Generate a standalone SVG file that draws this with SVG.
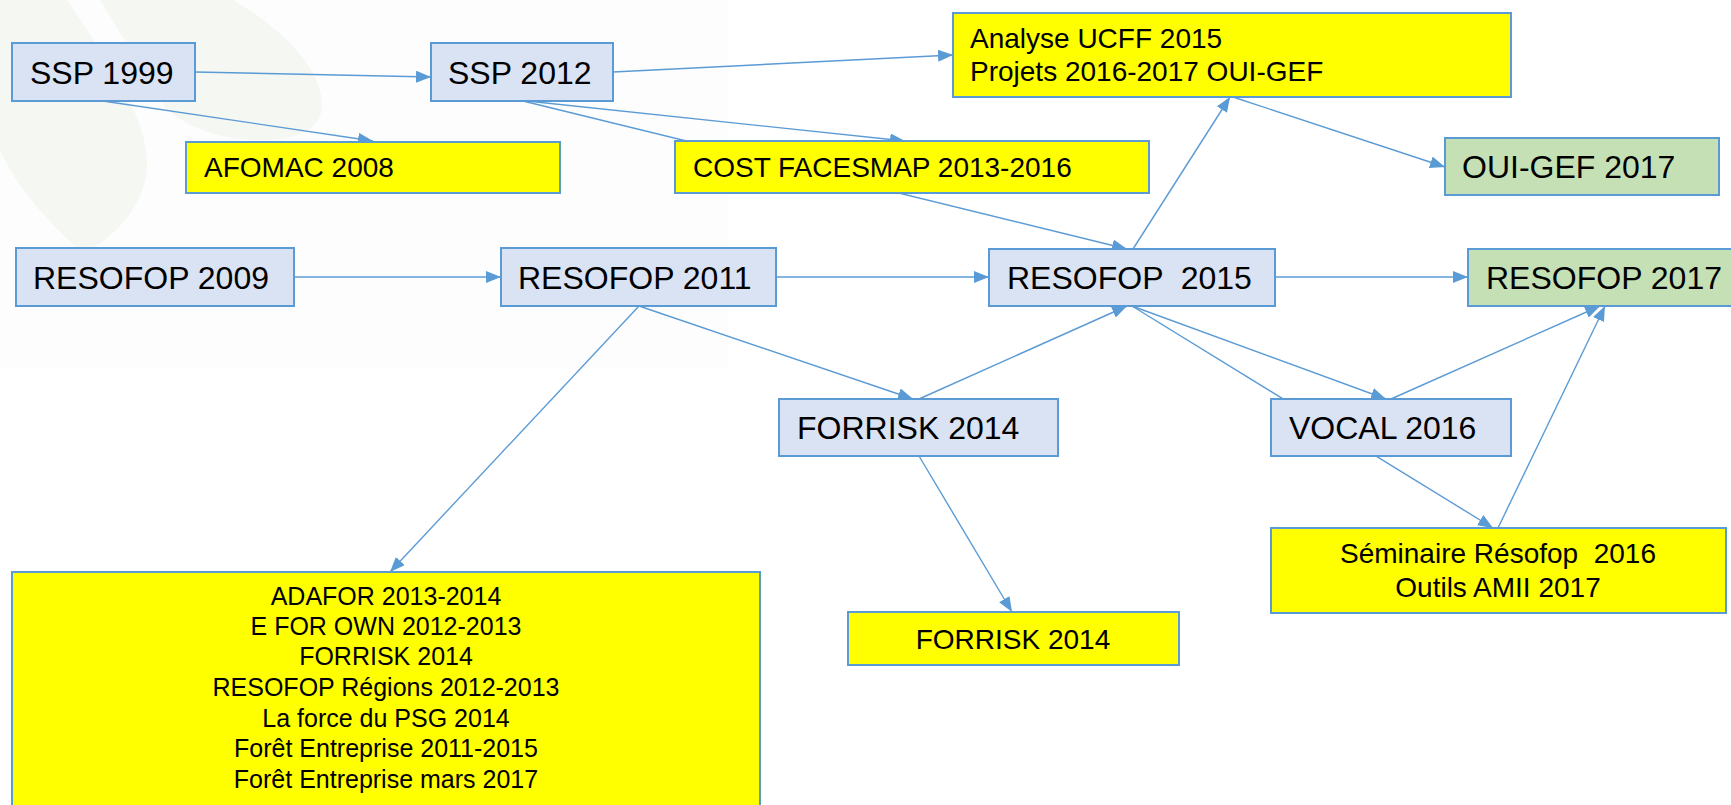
<svg xmlns="http://www.w3.org/2000/svg" width="1731" height="805" viewBox="0 0 1731 805">
<style>
.bl{fill:#DAE3F3;stroke:#5B9BD5;stroke-width:2}
.ye{fill:#FFFF00;stroke:#5B9BD5;stroke-width:2}
.gr{fill:#C5E0B4;stroke:#5B9BD5;stroke-width:2}
text{font-family:"Liberation Sans",Arial,sans-serif;fill:#000;white-space:pre}
.t32{font-size:32px}
.t28{font-size:28px}
.t25{font-size:25px}
.c{text-anchor:middle}
#connectors line{stroke:#5B9BD5;stroke-width:1.4;fill:none}
.ar{marker-end:url(#ah)}
</style>
<defs>
<marker id="ah" markerUnits="userSpaceOnUse" markerWidth="16" markerHeight="12" refX="15" refY="6" orient="auto">
<path d="M0,0 L15,6 L0,12 Z" fill="#5B9BD5"/>
</marker>
</defs>
<rect width="1731" height="805" fill="#FFFFFF"/>
<g id="background">
<rect x="0" y="0" width="728" height="367" fill="#FDFDFD"/>
<g fill="#F5F7F2">
<path d="M0,0 L67,0 C100,50 145,110 147,160 C148,200 120,235 83,253 C50,225 15,185 0,150 Z"/>
<path d="M100,0 L233,0 C285,30 322,70 322,105 C322,130 295,140 260,140 C220,140 190,128 167,110 Z"/>
</g>
</g>
<g id="connectors">
<line class="ar" x1="195" y1="72" x2="431" y2="77"/>
<line class="ar" x1="103" y1="101" x2="373" y2="141"/>
<line class="ar" x1="613" y1="72" x2="953" y2="55"/>
<line class="ar" x1="527" y1="101" x2="905" y2="141"/>
<line class="ar" x1="523" y1="101" x2="1127" y2="249"/>
<line class="ar" x1="294" y1="277" x2="501" y2="277"/>
<line class="ar" x1="776" y1="277" x2="989" y2="277"/>
<line class="ar" x1="1275" y1="277" x2="1468" y2="277"/>
<line class="ar" x1="639" y1="306" x2="913" y2="399"/>
<line class="ar" x1="639" y1="306" x2="390" y2="572"/>
<line class="ar" x1="919" y1="399" x2="1127" y2="306"/>
<line class="ar" x1="919" y1="456" x2="1012" y2="612"/>
<line class="ar" x1="1132" y1="306" x2="1386" y2="399"/>
<line class="ar" x1="1132" y1="306" x2="1493" y2="528"/>
<line class="ar" x1="1391" y1="399" x2="1600" y2="306"/>
<line class="ar" x1="1498" y1="528" x2="1605" y2="306"/>
<line class="ar" x1="1133" y1="249" x2="1230" y2="97"/>
<line class="ar" x1="1233" y1="97" x2="1445" y2="167"/>
</g>
<g id="ssp1999"><rect class="bl" x="12" y="43" width="183" height="58"/><text class="t32" x="30" y="84">SSP 1999</text></g>
<g id="ssp2012"><rect class="bl" x="431" y="43" width="182" height="58"/><text class="t32" x="448" y="84">SSP 2012</text></g>
<g id="afomac"><rect class="ye" x="186" y="142" width="374" height="51"/><text class="t28" x="204" y="177">AFOMAC 2008</text></g>
<g id="cost"><rect class="ye" x="675" y="141" width="474" height="52"/><text class="t28" x="693" y="177">COST FACESMAP 2013-2016</text></g>
<g id="analyse"><rect class="ye" x="953" y="13" width="558" height="84"/><text class="t28" x="970" y="48">Analyse UCFF 2015</text><text class="t28" x="970" y="81">Projets 2016-2017 OUI-GEF</text></g>
<g id="ouigef2017"><rect class="gr" x="1445" y="138" width="274" height="57"/><text class="t32" x="1462" y="178">OUI-GEF 2017</text></g>
<g id="resofop2009"><rect class="bl" x="16" y="248" width="278" height="58"/><text class="t32" x="33" y="289">RESOFOP 2009</text></g>
<g id="resofop2011"><rect class="bl" x="501" y="248" width="275" height="58"/><text class="t32" x="518" y="289">RESOFOP 2011</text></g>
<g id="resofop2015"><rect class="bl" x="989" y="249" width="286" height="57"/><text class="t32" x="1007" y="289">RESOFOP  2015</text></g>
<g id="resofop2017"><rect class="gr" x="1468" y="249" width="280" height="57"/><text class="t32" x="1486" y="289">RESOFOP 2017</text></g>
<g id="forrisk"><rect class="bl" x="779" y="399" width="279" height="57"/><text class="t32" x="797" y="439">FORRISK 2014</text></g>
<g id="vocal"><rect class="bl" x="1271" y="399" width="240" height="57"/><text class="t32" x="1289" y="439">VOCAL 2016</text></g>
<g id="seminaire"><rect class="ye" x="1271" y="528" width="455" height="85"/><text class="t28 c" x="1498" y="563">Séminaire Résofop  2016</text><text class="t28 c" x="1498" y="597">Outils AMII 2017</text></g>
<g id="forrisk-y"><rect class="ye" x="848" y="612" width="331" height="53"/><text class="t28 c" x="1013" y="649">FORRISK 2014</text></g>
<g id="projets"><rect class="ye" x="12" y="572" width="748" height="245"/>
<text class="t25 c" x="386" y="605">ADAFOR 2013-2014</text>
<text class="t25 c" x="386" y="635">E FOR OWN 2012-2013</text>
<text class="t25 c" x="386" y="665">FORRISK 2014</text>
<text class="t25 c" x="386" y="696">RESOFOP Régions 2012-2013</text>
<text class="t25 c" x="386" y="727">La force du PSG 2014</text>
<text class="t25 c" x="386" y="757">Forêt Entreprise 2011-2015</text>
<text class="t25 c" x="386" y="788">Forêt Entreprise mars 2017</text>
</g>
</svg>
